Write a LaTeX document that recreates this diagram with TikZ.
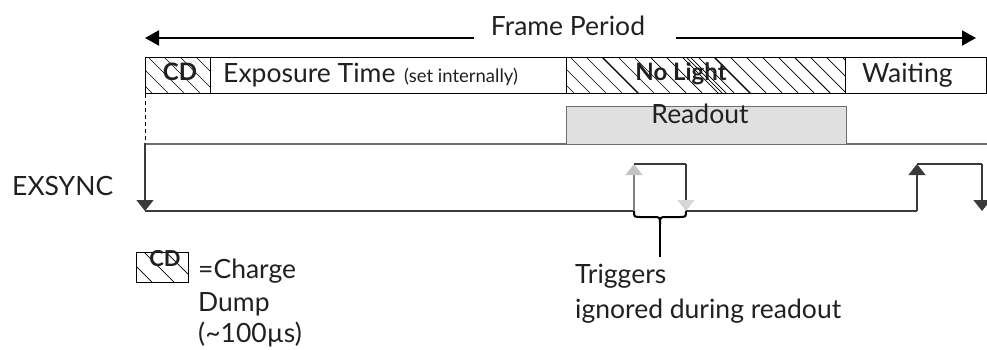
\documentclass[tikz,border=0pt]{standalone}
\usepackage{fontspec}
\setmainfont{Lato}
\usetikzlibrary{arrows.meta}
\definecolor{sig}{HTML}{3A3A3A}
\definecolor{basel}{HTML}{6E6E6E}
\definecolor{rofill}{HTML}{E0E0E0}
\definecolor{ghostup}{HTML}{C4C4C4}
\definecolor{ghostdn}{HTML}{D6D6D6}
\definecolor{txt}{HTML}{231F20}
\begin{document}
\begin{tikzpicture}[x=1pt,y=-1pt,
  lbl/.style={inner sep=0pt, text=txt, font=\fontsize{26.5}{26.5}\selectfont},
  small/.style={inner sep=0pt, text=txt, font=\fontsize{18.5}{18.5}\selectfont},
  boldlbl/.style={inner sep=0pt, text=txt, font=\fontsize{24}{24}\selectfont\bfseries},
  boxe/.style={draw=black, line width=1.1pt, inner sep=0pt},
  hatch/.style={line width=0.7pt, black},
  period/.style={line width=2pt, -{Triangle[width=15pt,length=14pt]}},
  sigline/.style={line width=1.4pt, draw=sig},
  tipdark/.style={-{Triangle[width=17pt,length=11pt]}, sigline},
  tipup/.style={-{Triangle[width=17pt,length=11pt,fill=ghostup,color=ghostup]}, line width=1.4pt, draw=gray},
  tipdn/.style={-{Triangle[width=17pt,length=11pt,fill=ghostdn,color=ghostdn]}, sigline},
  bracel/.style={line width=2pt, black}
]
\useasboundingbox (0,0) rectangle (987,349);

% ---------- Frame period ----------
\node[lbl, anchor=base] (fp) at (568,35) {Frame Period};
\coordinate (fpla) at (474,38);
\coordinate (fpl) at (145,38);
\coordinate (fpra) at (676,38);
\coordinate (fpr) at (976,38);
\draw[period] (fpla) -- (fpl);
\draw[period] (fpra) -- (fpr);

% ---------- top bar hatching ----------
\begin{scope}
  \clip (145,57) rectangle (210,93);
  \foreach \x in {100,116,...,220} \draw[hatch] (\x,57) -- ++(36,36);
\end{scope}
\begin{scope}
  \clip (566,57) rectangle (845,93);
  \foreach \x in {522,538,...,850} \draw[hatch] (\x,57) -- ++(36,36);
  \foreach \x in {602,714} \draw[line width=1.4pt] (\x,57) -- ++(36,36);
  \foreach \x in {686,690,794} \draw[hatch] (\x,57) -- ++(36,36);
\end{scope}

% ---------- top bar boxes ----------
\node[boxe, anchor=north west, minimum width=65pt, minimum height=36pt] (cd) at (145,57) {};
\node[boxe, anchor=north west, minimum width=356pt, minimum height=36pt] (exp) at (210,57) {};
\node[boxe, anchor=north west, minimum width=279pt, minimum height=36pt] (nol) at (566,57) {};
\node[boxe, anchor=north west, minimum width=141pt, minimum height=36pt] (wait) at (845,57) {};

\node[boldlbl, anchor=base] (cdt) at (180,80) {CD};
\node[lbl, anchor=base west] (expt) at (223,82) {Exposure Time};
\node[small, anchor=base west] (expn) at (404,82) {(set internally)};
\node[boldlbl, anchor=base] (nolt) at (681,80) {No Light};
\node[lbl, anchor=base west] (waitt) at (862,82) {Waiting};

% ---------- readout ----------
\coordinate (bl0) at (145,144);
\coordinate (bl1) at (987,144);
\draw[line width=1.4pt, draw=basel] (bl0) -- (bl1);
\node[draw=basel, line width=1.2pt, fill=rofill, anchor=north west,
      minimum width=280pt, minimum height=38pt, inner sep=0pt] (ro) at (566,106) {};
\node[lbl, anchor=base] (rot) at (700,123) {Readout};

% dashed start marker
\coordinate (d0) at (145,94);
\draw[dashed, line width=0.8pt, dash pattern=on 4pt off 3pt] (d0) -- (145,163);

% ---------- EXSYNC ----------
\node[lbl, anchor=base west] (ex) at (12,195) {EXSYNC};
\coordinate (s0) at (145,143);
\coordinate (s1) at (145,211);
\coordinate (s2) at (634,211);
\coordinate (s3) at (634,164);
\coordinate (s4) at (686,164);
\coordinate (s5) at (686,211);
\coordinate (s6) at (917,211);
\coordinate (s7) at (917,164);
\coordinate (s8) at (982,164);
\coordinate (s9) at (982,211);
\draw[tipdark] (s0) -- (s1);
\draw[sigline] (s1) -- (s2);
\draw[tipup] (s2) -- (s3);
\draw[sigline] (s3) -- (s4);
\draw[tipdn] (s4) -- (s5);
\draw[sigline] (s5) -- (s6);
\draw[tipdark] (s6) -- (s7);
\draw[sigline] (s7) -- (s8);
\draw[tipdark] (s8) -- (s9);

% ---------- brace ----------
\coordinate (bm) at (660,224);
\coordinate (bend) at (660,257);
\draw[bracel] (s2) .. controls (634,217) .. (641,217) -- (653,217) .. controls (660,217) .. (bm);
\draw[bracel] (s5) .. controls (686,217) .. (679,217) -- (667,217) .. controls (660,217) .. (bm);
\draw[bracel] (bm) -- (bend);
\node[lbl, anchor=base west] (trg1) at (575,283) {Triggers};
\node[lbl, anchor=base west] (trg2) at (575,318) {ignored during readout};

% ---------- legend ----------
\begin{scope}
  \clip (136,252) rectangle (188,282);
  \foreach \x in {100,122,...,200} \draw[hatch] (\x,252) -- ++(30,30);
\end{scope}
\node[draw=black, line width=1pt, anchor=north west, minimum width=52pt, minimum height=30pt, inner sep=0pt] (lcd) at (136,252) {};
\node[inner sep=0pt, text=txt, font=\fontsize{22}{22}\selectfont\bfseries, anchor=base] (lcdt) at (165,266) {CD};
\node[lbl, anchor=base west] (lg1) at (198,278) {=Charge};
\node[lbl, anchor=base west] (lg2) at (198,311) {Dump};
\node[lbl, anchor=base west] (lg3) at (198,342) {(\textasciitilde 100µs)};
\end{tikzpicture}
\end{document}
